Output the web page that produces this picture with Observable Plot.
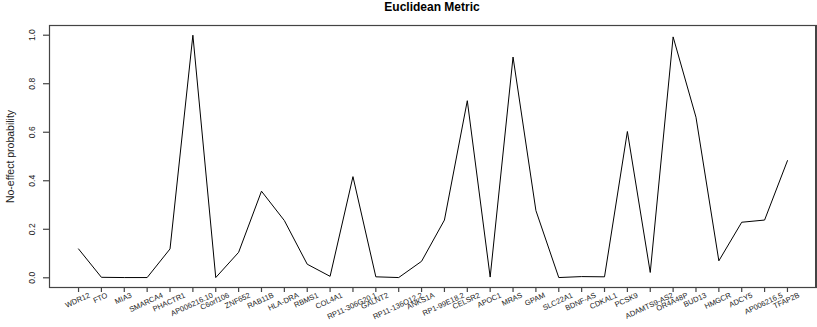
<!DOCTYPE html>
<html><head><meta charset="utf-8">
<script src="https://cdn.jsdelivr.net/npm/d3@7"></script>
<script src="https://cdn.jsdelivr.net/npm/@observablehq/plot@0.6"></script>
<style>
body{margin:0;background:#fff;font-family:"Liberation Sans",Arial,sans-serif;}
#title{width:768px;padding-left:48px;padding-right:1px;height:14px;line-height:14px;font-size:12px;font-weight:bold;text-align:center;color:#000;}
#wrap{position:relative;width:817px;}
#chart svg{font-family:"Liberation Sans",Arial,sans-serif;}
#box{position:absolute;left:49px;top:11px;width:767px;height:263px;border:1px solid #444;box-sizing:border-box;pointer-events:none;}
</style></head><body>
<div id="title">Euclidean Metric</div>
<div id="wrap"><div id="chart"></div><div id="box"></div></div>
<script>
const genes = ["WDR12","FTO","MIA3","SMARCA4","PHACTR1","AP006216.10","C6orf106","ZNF652","RAB11B","HLA-DRA","RBMS1","COL4A1","RP11-306G20.1","GALNT2","RP11-136O12.2","ANKS1A","RP1-99E18.2","CELSR2","APOC1","MRAS","GPAM","SLC22A1","BDNF-AS","CDKAL1","PCSK9","ADAMTS9-AS2","OR4A48P","BUD13","HMGCR","ADCY5","AP006216.5","TFAP2B"];
const probs = [0.119,0.002,0.001,0.001,0.119,1.0,0.001,0.105,0.357,0.236,0.056,0.006,0.417,0.004,0.001,0.068,0.238,0.730,0.003,0.910,0.277,0.001,0.005,0.004,0.603,0.022,0.993,0.662,0.070,0.229,0.238,0.483];
const yTicks = [0,0.2,0.4,0.6,0.8,1.0];
const yTickLabels = ["0.0","0.2","0.4","0.6","0.8","1.0"];
const yLabel = "No-effect probability";

const data = genes.map((g,i)=>({gene:g, p:probs[i]}));

// x tick labels: rotated, centred on the tick, tops aligned just below the axis
const labelSize = 7.5, labelAngle = 25;
const ctx = document.createElement("canvas").getContext("2d");
ctx.font = labelSize + 'px "Liberation Sans"';
const rad = labelAngle * Math.PI / 180;
const labelMarks = genes.map(g => {
  const L = ctx.measureText(g).width;
  const ext = (L * Math.sin(rad) + 0.72 * labelSize * Math.cos(rad)) / 2;
  return Plot.text([g], {x:d=>d, text:d=>d, frameAnchor:"bottom", rotate:-labelAngle, textAnchor:"middle", dy: 7 + ext, fontSize:labelSize, fill:"#222"});
});

const plot = Plot.plot({
  width:817, height:313, marginTop:11, marginBottom:40, marginLeft:49, marginRight:1,
  x:{type:"point", domain:genes, padding:1.27, round:false},
  y:{domain:[-0.04,1.04]},
  marks:[
    Plot.frame({stroke:"#444", strokeWidth:1.2}),
    Plot.axisX({tickSize:5, tickFormat:()=>"", label:null, stroke:"#444", strokeWidth:1.2}),
    Plot.axisY({ticks:yTicks, tickSize:6, tickFormat:()=>"", label:null, stroke:"#444", strokeWidth:1.2}),
    Plot.text(yTicks, {y:d=>d, text:(d,i)=>yTickLabels[i], frameAnchor:"left", dx:-17, rotate:-90, textAnchor:"middle", fontSize:8.5, fill:"#222"}),
    Plot.text([yLabel], {frameAnchor:"left", dx:-39, rotate:-90, textAnchor:"middle", fontSize:10.5, fill:"#222"}),
    ...labelMarks,
    Plot.line(data, {x:"gene", y:"p", stroke:"#000", strokeWidth:1})
  ]
});
document.getElementById("chart").appendChild(plot);
</script>
</body></html>
